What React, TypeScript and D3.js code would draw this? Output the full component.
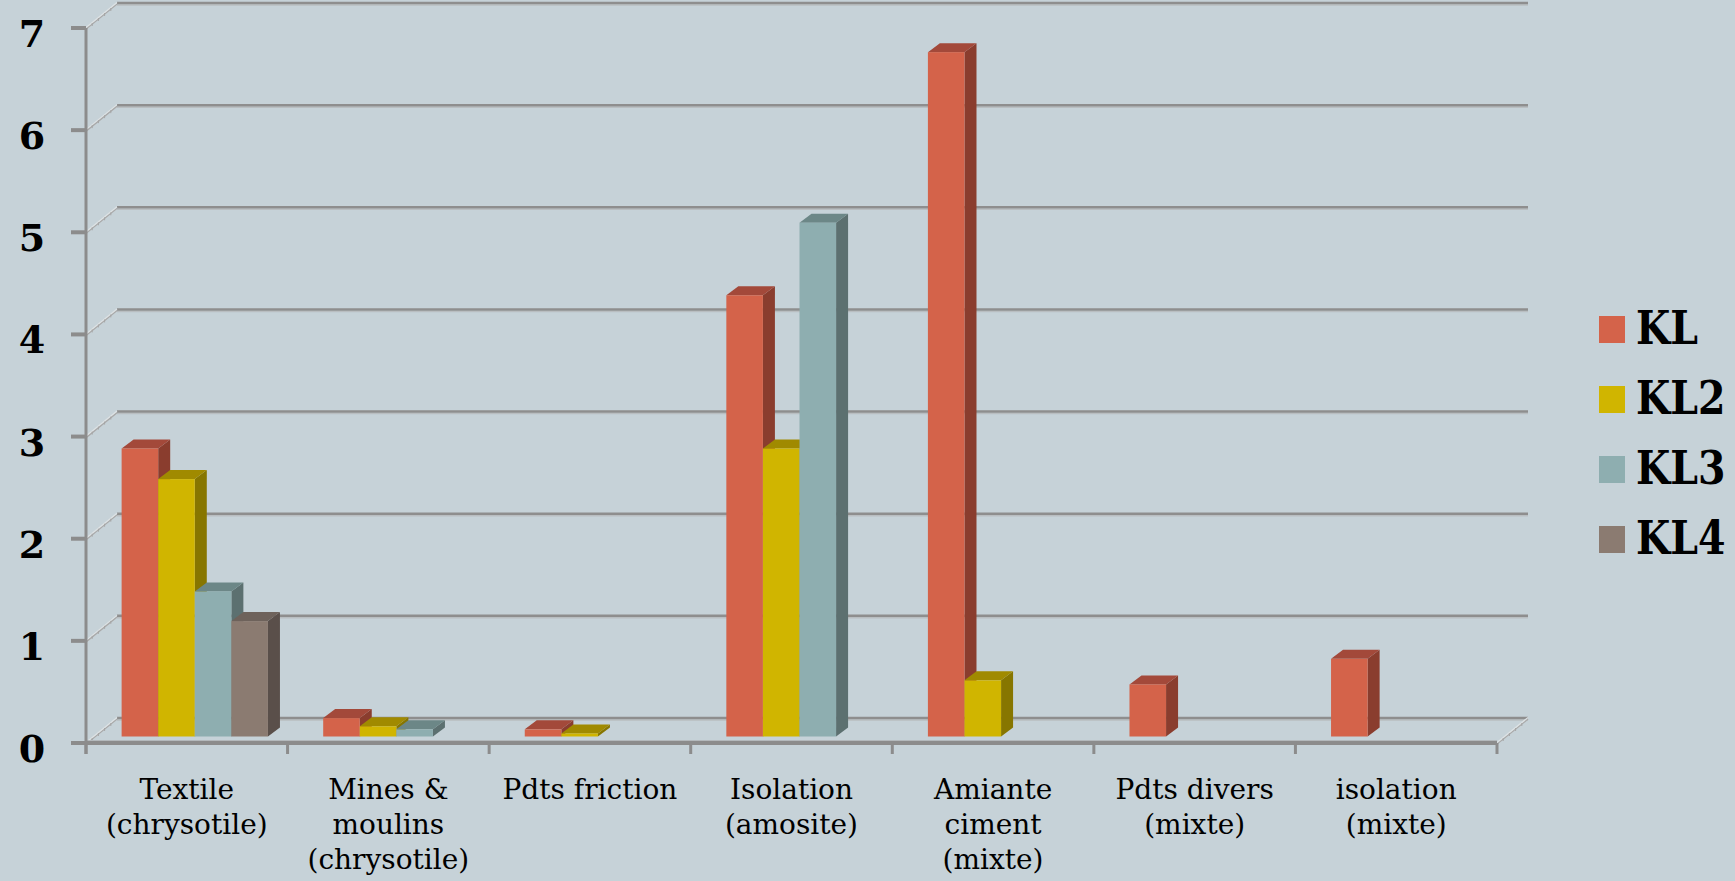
import React from "react";
import * as d3 from "d3";

const categories: string[][] = [
  ["Textile", "(chrysotile)"],
  ["Mines &", "moulins", "(chrysotile)"],
  ["Pdts friction"],
  ["Isolation", "(amosite)"],
  ["Amiante", "ciment", "(mixte)"],
  ["Pdts divers", "(mixte)"],
  ["isolation", "(mixte)"],
];
const seriesNames = ["KL", "KL2", "KL3", "KL4"];
const KL: (number | null)[] = [2.82, 0.18, 0.07, 4.32, 6.7, 0.51, 0.76];
const KL2: (number | null)[] = [2.52, 0.1, 0.03, 2.82, 0.55, null, null];
const KL3: (number | null)[] = [1.42, 0.07, null, 5.03, null, null, null];
const KL4: (number | null)[] = [1.13, null, null, null, null, null, null];
const yTicks = [0, 1, 2, 3, 4, 5, 6, 7];

const seriesValues = [KL, KL2, KL3, KL4];
const colors = [
  { front: "#d4634a", top: "#a3493a", side: "#8a3d2e" },
  { front: "#d0b500", top: "#a08a00", side: "#877600" },
  { front: "#8eaeb0", top: "#6c8787", side: "#5c7070" },
  { front: "#8b7b71", top: "#6e625b", side: "#5a4f4a" },
];

const W = 1735;
const H = 881;
const BG = "#c6d2d8";
const AX = "#8c8c8c";

// 3D geometry
const WALL_DX = 31;
const WALL_DY = 25;
const BAR_OFF_X = 8;
const BAR_OFF_Y = 6.5;
const BAR_DX = 12;
const BAR_DY = 9;

export default function App() {
  const catIdx = categories.map((_, i) => String(i));
  const x0 = d3.scaleBand().domain(catIdx).range([86, 1497]).paddingInner(0).paddingOuter(0);
  const x1 = d3
    .scaleBand()
    .domain(seriesNames)
    .range([0, x0.bandwidth()])
    .paddingInner(0)
    .paddingOuter(0.755);
  const y = d3.scaleLinear().domain([0, 7]).range([743, 28]);
  const yMin = y(0);
  const leftX = x0.range()[0];
  const rightX = x0.range()[1];

  const bars: React.ReactNode[] = [];
  categories.forEach((_, ci) => {
    seriesValues.forEach((vals, si) => {
      const v = vals[ci];
      if (v === null || v === undefined) return;
      const xl = (x0(String(ci)) as number) + (x1(seriesNames[si]) as number) + BAR_OFF_X;
      const xr = xl + x1.bandwidth();
      const yb = yMin - BAR_OFF_Y;
      const yt = y(v) - BAR_OFF_Y;
      const c = colors[si];
      const side = `M${xr},${yt} L${xr + BAR_DX},${yt - BAR_DY} L${xr + BAR_DX},${yb - BAR_DY} L${xr},${yb} Z`;
      const top = `M${xl},${yt} L${xr},${yt} L${xr + BAR_DX},${yt - BAR_DY} L${xl + BAR_DX},${yt - BAR_DY} Z`;
      bars.push(
        <g key={`b-${ci}-${si}`}>
          <path d={side} fill={c.side} />
          <path d={top} fill={c.top} />
          <rect x={xl} y={yt} width={xr - xl} height={yb - yt} fill={c.front} />
        </g>
      );
    });
  });

  const diag = (yy: number, key: string, xs: number) => {
    const ticks = [0.2, 0.4, 0.6, 0.8].map((t) => (
      <line
        key={`${key}-h${t}`}
        x1={xs + WALL_DX * t}
        y1={yy - WALL_DY * t}
        x2={xs + WALL_DX * t}
        y2={yy - WALL_DY * t + 3}
        stroke="#a6a6a6"
        strokeWidth={1}
      />
    ));
    return (
      <g key={key}>
        <line x1={xs} y1={yy + 1} x2={xs + WALL_DX} y2={yy - WALL_DY + 1} stroke="#a9a9a9" strokeWidth={1.5} />
        <line x1={xs} y1={yy - 0.5} x2={xs + WALL_DX} y2={yy - WALL_DY - 0.5} stroke="#dde2e4" strokeWidth={1.2} />
        {ticks}
      </g>
    );
  };

  return (
    <svg
      width={W}
      height={H}
      style={{ position: "absolute", left: 0, top: 0, display: "block" }}
      xmlns="http://www.w3.org/2000/svg"
    >
      <rect x={0} y={0} width={W} height={H} fill={BG} />

      {/* back wall gridlines */}
      {yTicks.map((t) => {
        const yy = y(t) - WALL_DY;
        return (
          <g key={`g${t}`}>
            <line x1={leftX + WALL_DX} y1={yy + 2} x2={rightX + WALL_DX} y2={yy + 2} stroke="#b9bec1" strokeWidth={1.5} />
            <line x1={leftX + WALL_DX} y1={yy} x2={rightX + WALL_DX} y2={yy} stroke="#8e8e8e" strokeWidth={2.5} />
          </g>
        );
      })}

      {/* side diagonals */}
      {yTicks.map((t) => diag(y(t), `d${t}`, leftX))}
      {diag(yMin, "dright", rightX)}

      {/* bars */}
      {bars}

      {/* front x axis */}
      <line x1={leftX} y1={yMin - 2.5} x2={rightX} y2={yMin - 2.5} stroke="#b4b9bc" strokeWidth={1} />
      <line x1={leftX} y1={yMin} x2={rightX} y2={yMin} stroke={AX} strokeWidth={4} />
      {d3.range(categories.length + 1).map((i) => {
        const xx = i < categories.length ? (x0(String(i)) as number) : rightX;
        return <line key={`xt${i}`} x1={xx} y1={yMin} x2={xx} y2={yMin + 11} stroke={AX} strokeWidth={3} />;
      })}

      {/* y axis */}
      <line x1={leftX} y1={y(7)} x2={leftX} y2={yMin + 11} stroke={AX} strokeWidth={3} />
      {yTicks.map((t) => (
        <line key={`yt${t}`} x1={leftX - 15} y1={y(t)} x2={leftX} y2={y(t)} stroke={AX} strokeWidth={4} />
      ))}
      {yTicks.map((t) => (
        <text
          key={`yl${t}`}
          x={32}
          y={y(t) + 19}
          textAnchor="middle"
          fontFamily="'DejaVu Serif', serif"
          fontWeight="bold"
          fontSize={38}
          fill="#000"
        >
          {t}
        </text>
      ))}

      {/* category labels */}
      {categories.map((lines, i) => {
        const cx = (x0(String(i)) as number) + x0.bandwidth() / 2;
        return (
          <text
            key={`cl${i}`}
            x={cx}
            y={799}
            textAnchor="middle"
            fontFamily="'DejaVu Serif', serif"
            fontSize={28}
            fill="#000"
          >
            {lines.map((ln, k) => (
              <tspan key={k} x={cx} y={799 + k * 35}>
                {ln}
              </tspan>
            ))}
          </text>
        );
      })}

      {/* legend */}
      {seriesNames.map((s, i) => {
        const cy = 329.5 + i * 70;
        return (
          <g key={`lg${s}`}>
            <rect x={1599} y={cy - 13.5} width={26} height={27} fill={colors[i].front} />
            <text
              transform={`translate(1636,${cy + 14.5}) scale(1,1.2)`}
              fontFamily="'DejaVu Serif', serif"
              fontWeight="bold"
              fontSize={39.5}
              fill="#000"
            >
              {s}
            </text>
          </g>
        );
      })}
    </svg>
  );
}
